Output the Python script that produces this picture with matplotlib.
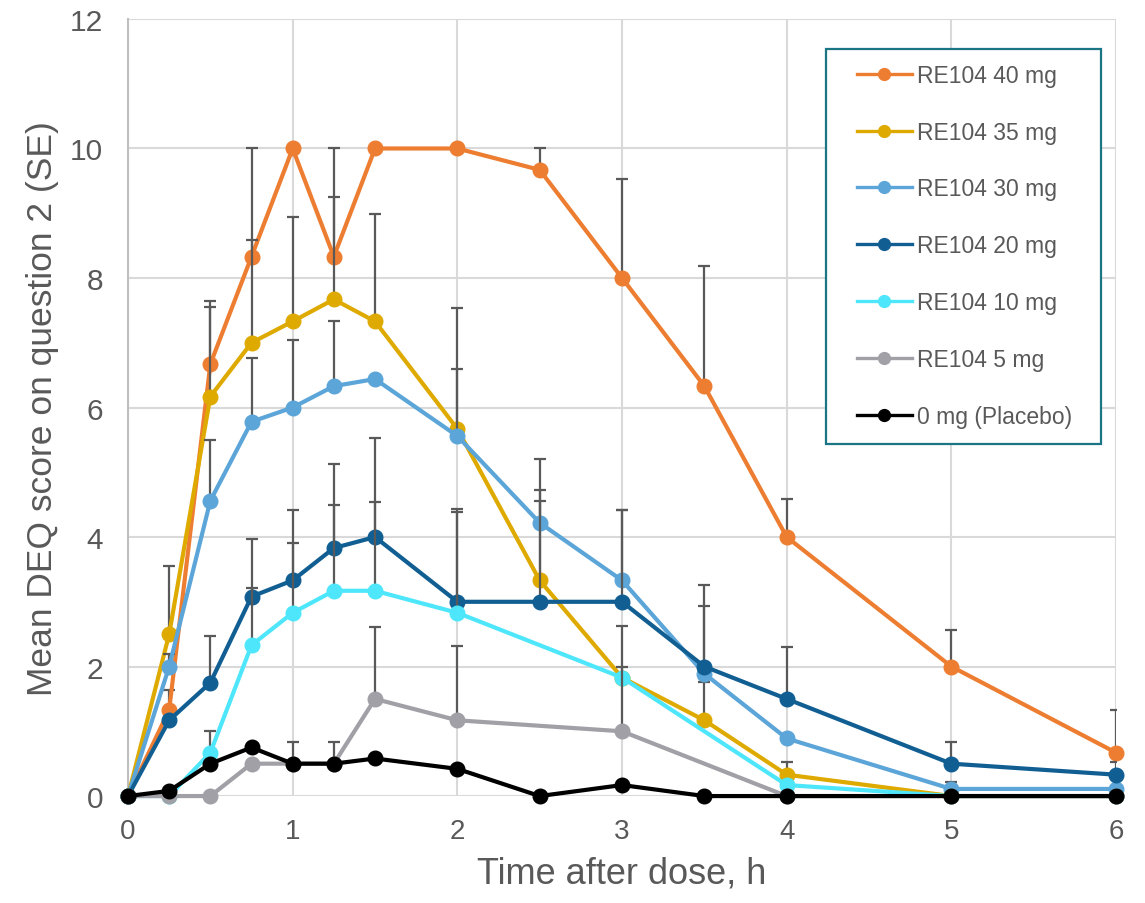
import numpy as np
import matplotlib
matplotlib.use("Agg")
import matplotlib.pyplot as plt
from matplotlib.patches import Rectangle

# time points (h)
t_all = [0, 0.25, 0.5, 0.75, 1, 1.25, 1.5, 2, 2.5, 3, 3.5, 4, 5, 6]
t_short = [0, 0.25, 0.5, 0.75, 1, 1.25, 1.5, 2, 3, 4, 5, 6]

labels = ["RE104 40 mg", "RE104 35 mg", "RE104 30 mg", "RE104 20 mg",
          "RE104 10 mg", "RE104 5 mg", "0 mg (Placebo)"]

mg40 = [0, 1.33, 6.67, 8.33, 10, 8.33, 10, 10, 9.67, 8, 6.33, 4, 2, 0.67]
se40 = [0, 0.31, 0.97, 1.67, 0, 1.67, 0, 0, 0.33, 1.53, 1.86, 0.58, 0.57, 0.66]

mg35 = [0, 2.5, 6.17, 7.0, 7.33, 7.67, 7.33, 5.67, 3.33, 1.83, 1.17, 0.33, 0, 0]
se35 = [0, 1.05, 1.38, 1.59, 1.61, 1.58, 1.66, 1.87, 1.22, 0, 0.59, 0.20, 0, 0]

mg30 = [0, 2.0, 4.56, 5.78, 6.0, 6.33, 6.44, 5.56, 4.22, 3.33, 1.89, 0.89, 0.11, 0.11]
se30 = [0, 0.20, 0.94, 0.98, 1.05, 1.0, 0, 1.03, 0.99, 1.09, 1.04, 0, 0.10, 0]

mg20 = [0, 1.17, 1.75, 3.08, 3.33, 3.83, 4.0, 3.0, 3.0, 3.0, 2.0, 1.5, 0.5, 0.33]
se20 = [0, 0, 0.72, 0.89, 1.08, 1.30, 1.53, 1.43, 1.73, 1.42, 1.26, 0.80, 0.33, 0.19]

mg10 = [0, 0, 0.67, 2.33, 2.83, 3.17, 3.17, 2.83, 1.83, 0.17, 0, 0]
se10 = [0, 0, 0.33, 0.88, 1.08, 1.32, 1.37, 1.55, 0.79, 0, 0, 0]

mg5 = [0, 0, 0, 0.5, 0.5, 0.5, 1.5, 1.17, 1.0, 0, 0, 0]
se5 = [0, 0, 0, 0, 0.34, 0.34, 1.11, 1.15, 0.99, 0, 0, 0]

placebo = [0, 0.08, 0.5, 0.75, 0.5, 0.5, 0.58, 0.42, 0, 0.17, 0, 0, 0, 0]
se_pl = [0] * 14

colors = ["#ED7D31", "#DFAA00", "#5BA5D9", "#115E93", "#4DE6FB", "#A0A0A6", "#000000"]

series = [(t_all, mg40, se40), (t_all, mg35, se35), (t_all, mg30, se30),
          (t_all, mg20, se20), (t_short, mg10, se10), (t_short, mg5, se5),
          (t_all, placebo, se_pl)]

plt.rcParams["font.family"] = ["Liberation Sans", "DejaVu Sans"]

txt = "#595959"
fig = plt.figure(figsize=(11.45, 9.04), dpi=100)
ax = fig.add_axes([0.1118, 0.1183, 0.8629, 0.8596])

for i, (t, y, se) in enumerate(series):
    z = 2 + i
    se = np.array(se)
    ax.errorbar(t, y, yerr=[np.zeros_like(se), se], fmt="none", ecolor=txt,
                elinewidth=1.6, capsize=4.5, capthick=1.6, zorder=z)
    ax.plot(t, y, "-o", color=colors[i], lw=3, ms=10.5, label=labels[i],
            zorder=z + 0.5, clip_on=False)

ax.set_xlim(0, 6)
ax.set_ylim(0, 12)
ax.set_xticks(range(0, 7))
ax.set_yticks(range(0, 13, 2))
ax.grid(True, color="#D9D9D9", lw=1.5)
ax.set_axisbelow(True)
for s in ["top", "right", "bottom"]:
    ax.spines[s].set_visible(False)
ax.spines["left"].set_color("#BFBFBF")
ax.spines["left"].set_linewidth(1.5)
ax.tick_params(length=0, colors=txt, labelsize=20)
ax.tick_params(axis="y", pad=18, labelsize=21.5)
ax.tick_params(axis="x", pad=16)

ax.set_ylabel("Mean DEQ score on question 2 (SE)", fontsize=25.5, color=txt, labelpad=8)
ax.set_xlabel("Time after dose, h", fontsize=26, color=txt, labelpad=8)

# legend box drawn by hand so the inner margins match
ax.add_patch(Rectangle((0.7065, 0.453), 0.2785, 0.5084, transform=ax.transAxes,
                       fill=True, facecolor="white", edgecolor="#1A7585", lw=1.6,
                       zorder=20, clip_on=False))
leg = ax.legend(loc="center", bbox_to_anchor=(0.8466, 0.708), fontsize=16.5,
                labelcolor=txt, frameon=False, labelspacing=1.48,
                handlelength=2.4, handletextpad=0.25, borderpad=0, borderaxespad=0)
leg.set_zorder(21)
for h in leg.legend_handles:
    h.set_markersize(8.5)
    h.set_linewidth(2.4)

fig.savefig("out.png", dpi=100)
